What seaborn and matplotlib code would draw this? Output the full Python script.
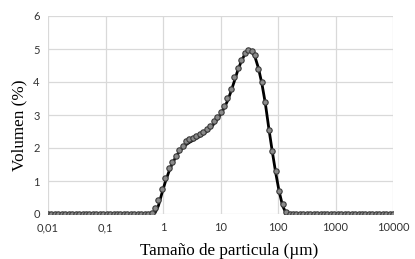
import numpy as np
import pandas as pd
import matplotlib
matplotlib.use("Agg")
import matplotlib.pyplot as plt
import seaborn as sns

# size bins of the analyser (0.01 - 10000 um, log spaced)
size_um = np.geomspace(0.01, 10000, 101)

# measured volume distribution (%)
measured = ([0.0] * 30 +
            [0.04, 0.17, 0.42, 0.75, 1.08, 1.38, 1.58, 1.76, 1.93, 2.07,
             2.20, 2.26, 2.31, 2.36, 2.43, 2.50, 2.58, 2.68, 2.82, 2.95,
             3.10, 3.28, 3.52, 3.80, 4.15, 4.43, 4.68, 4.88, 4.97, 4.95,
             4.82, 4.40, 4.00, 3.40, 2.55, 1.90, 1.30, 0.70, 0.30, 0.07] +
            [0.0] * 31)

# fitted curve (%)
fitted = ([0.0] * 30 +
          [0.00, 0.03, 0.25, 0.62, 0.97, 1.27, 1.52, 1.72, 1.88, 2.00,
           2.10, 2.17, 2.23, 2.29, 2.35, 2.42, 2.50, 2.60, 2.72, 2.86,
           3.02, 3.20, 3.42, 3.70, 4.02, 4.35, 4.62, 4.83, 4.95, 4.93,
           4.76, 4.42, 3.95, 3.35, 2.60, 1.90, 1.25, 0.68, 0.25, 0.02] +
          [0.0] * 31)

x_ticks = [0.01, 0.1, 1, 10, 100, 1000, 10000]
x_tick_labels = ["0,01", "0,1", "1", "10", "100", "1000", "10000"]
y_ticks = [0, 1, 2, 3, 4, 5, 6]

df = pd.DataFrame({"size": size_um, "measured": measured, "fitted": fitted})

sns.set_style("whitegrid")
plt.rcParams["font.family"] = ["Lato", "DejaVu Sans"]

fig = plt.figure(figsize=(4.15, 2.59), dpi=100)
ax = fig.add_axes([48 / 415, 45 / 259, 345 / 415, 198 / 259])

sns.lineplot(data=df, x="size", y="fitted", color="black", linewidth=2.0, ax=ax, zorder=2)
sns.scatterplot(data=df, x="size", y="measured", color="#8a8a8a", edgecolor="#3a3a3a",
                linewidth=0.8, s=15, ax=ax, zorder=3)

ax.set_xscale("log")
ax.set_xlim(0.01, 10000)
ax.set_ylim(0, 6)
ax.set_xticks(x_ticks)
ax.set_xticklabels(x_tick_labels)
ax.set_yticks(y_ticks)
ax.minorticks_off()
ax.tick_params(axis="both", length=0, labelsize=8, colors="#333333", pad=6)
ax.grid(True, color="#d9d9d9", linewidth=0.9)
for s in ax.spines.values():
    s.set_visible(False)

ax.set_xlabel("Tamaño de particula (µm)", family="Liberation Serif", fontsize=12.3, color="black")
ax.set_ylabel("Volumen (%)", family="Liberation Serif", fontsize=12.3, color="black")
ax.xaxis.set_label_coords(0.525, -0.148)
ax.yaxis.set_label_coords(-0.06, 0.45)

fig.savefig("out.png", dpi=100)
